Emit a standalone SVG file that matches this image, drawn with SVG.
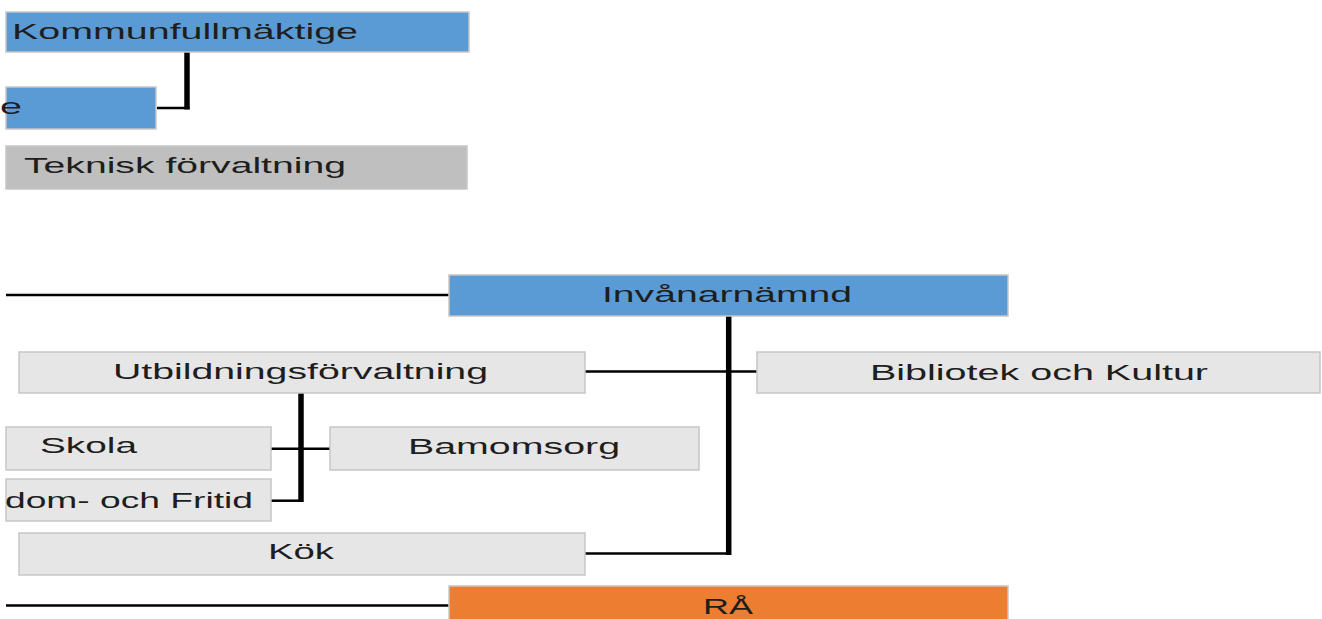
<svg xmlns="http://www.w3.org/2000/svg" width="1322" height="619" viewBox="0 0 1322 619">
  <style>
    .box { stroke: #c6c6c6; stroke-width: 1.5; }
    .blue { fill: #5b9bd5; }
    .grey { fill: #bfbfbf; }
    .light { fill: #e6e6e6; }
    .orange { fill: #ed7d31; }
    .lbl { font-family: "Liberation Sans", Arial, sans-serif; font-size: 22px; fill: #1e1e1e; }
    .thin { stroke: #000; stroke-width: 2.5; fill: none; }
    .thick { stroke: #000; stroke-width: 5.5; fill: none; }
  </style>
  <rect width="1322" height="619" fill="#ffffff"/>

  <!-- connectors -->
  <g id="connectors">
    <line class="thick" x1="187" y1="52" x2="187" y2="109.5"/>
    <line class="thin" x1="157" y1="108" x2="189.5" y2="108"/>
    <line class="thin" x1="6" y1="295" x2="449" y2="295"/>
    <line class="thick" x1="728.7" y1="316" x2="728.7" y2="555"/>
    <line class="thin" x1="585" y1="553.5" x2="731" y2="553.5"/>
    <line class="thin" x1="585" y1="371.5" x2="757" y2="371.5"/>
    <line class="thick" x1="301" y1="393" x2="301" y2="502"/>
    <line class="thin" x1="271" y1="448.7" x2="330" y2="448.7"/>
    <line class="thin" x1="271" y1="500.7" x2="303" y2="500.7"/>
    <line class="thin" x1="6" y1="605.5" x2="449" y2="605.5"/>
  </g>

  <g id="kommunfullmaktige">
    <rect class="box blue" x="6" y="12" width="463" height="40"/>
    <text class="lbl" x="12" y="39" textLength="346" lengthAdjust="spacingAndGlyphs">Kommunfullmäktige</text>
  </g>

  <g id="styrelse">
    <rect class="box blue" x="6" y="87" width="150" height="42"/>
    <text class="lbl" x="0" y="114" textLength="22" lengthAdjust="spacingAndGlyphs">e</text>
  </g>

  <g id="teknisk">
    <rect class="box grey" x="6" y="146" width="461" height="43"/>
    <text class="lbl" x="24" y="173" textLength="322" lengthAdjust="spacingAndGlyphs">Teknisk förvaltning</text>
  </g>

  <g id="invanarnamnd">
    <rect class="box blue" x="449" y="275" width="559" height="41"/>
    <text class="lbl" x="602" y="302" textLength="250" lengthAdjust="spacingAndGlyphs">Invånarnämnd</text>
  </g>

  <g id="utbildning">
    <rect class="box light" x="19" y="352" width="566" height="41"/>
    <text class="lbl" x="113" y="379" textLength="375" lengthAdjust="spacingAndGlyphs">Utbildningsförvaltning</text>
  </g>

  <g id="bibliotek">
    <rect class="box light" x="757" y="352" width="563" height="41"/>
    <text class="lbl" x="870" y="380" textLength="338" lengthAdjust="spacingAndGlyphs">Bibliotek och Kultur</text>
  </g>

  <g id="skola">
    <rect class="box light" x="6" y="427" width="265" height="43"/>
    <text class="lbl" x="40" y="453" textLength="97" lengthAdjust="spacingAndGlyphs">Skola</text>
  </g>

  <g id="barnomsorg">
    <rect class="box light" x="330" y="427" width="369" height="43"/>
    <text class="lbl" x="408" y="454" textLength="212" lengthAdjust="spacingAndGlyphs">Bamomsorg</text>
  </g>

  <g id="fritid">
    <rect class="box light" x="6" y="479" width="265" height="42"/>
    <text class="lbl" x="5" y="508" textLength="248" lengthAdjust="spacingAndGlyphs">dom- och Fritid</text>
  </g>

  <g id="kok">
    <rect class="box light" x="19" y="533" width="566" height="42"/>
    <text class="lbl" x="268" y="559" textLength="66" lengthAdjust="spacingAndGlyphs">Kök</text>
  </g>

  <g id="ra">
    <rect class="box orange" x="449" y="586" width="559" height="40"/>
    <text class="lbl" x="703" y="614" textLength="50" lengthAdjust="spacingAndGlyphs">RÅ</text>
  </g>
</svg>
